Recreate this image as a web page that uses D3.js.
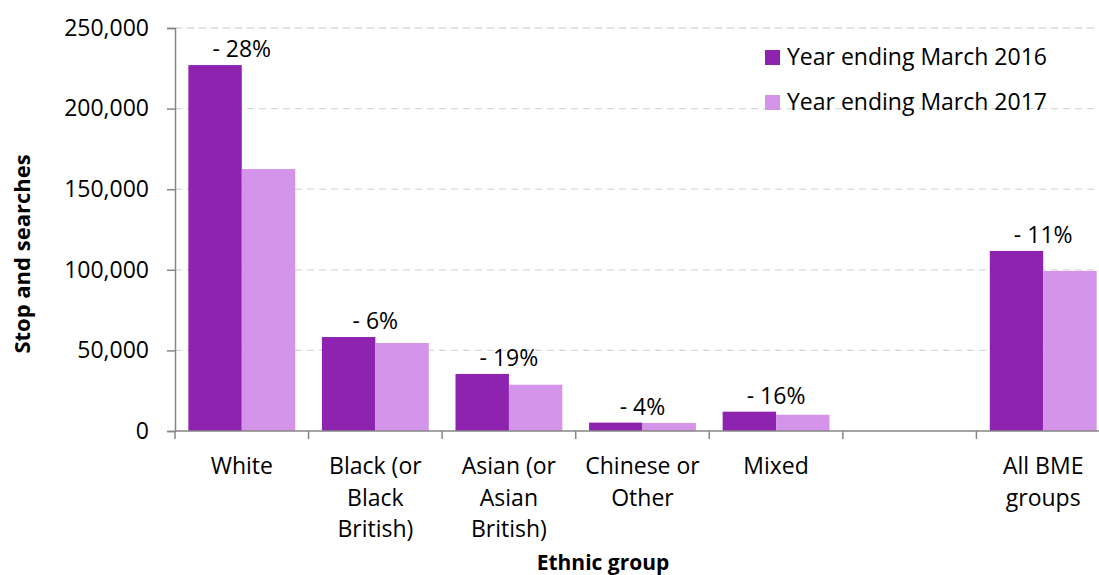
<!DOCTYPE html>
<html>
<head>
<meta charset="utf-8">
<script src="https://cdn.jsdelivr.net/npm/d3@7"></script>
<style>
  html, body { margin: 0; padding: 0; background: #fff; }
  svg { display: block; font-family: "Open Sans", "Noto Sans", sans-serif; }
</style>
</head>
<body>
<svg id="chart" width="1099" height="575"></svg>
<script>
// ---- data ----
const categories = ["White", "Black (or|Black|British)", "Asian (or|Asian|British)", "Chinese or|Other", "Mixed", "", "All BME|groups"];
const categoryKeys = ["white", "black", "asian", "chinese", "mixed", "blank", "bme"];
const seriesNames = ["Year ending March 2016", "Year ending March 2017"];
const values2016 = [227000, 58300, 35400, 5200, 12000, null, 111700];
const values2017 = [162500, 54600, 28700, 5000, 10100, null, 99300];
const changeLabels = ["- 28%", "- 6%", "- 19%", "- 4%", "- 16%", "", "- 11%"];
const yTicks = [0, 50000, 100000, 150000, 200000, 250000];
const colors = ["#8E23B0", "#D494E9"];

// ---- layout ----
const svg = d3.select("#chart");
const plotLeft = 175, plotRight = 1110, plotTop = 28, plotBottom = 431;
const fs = 23;

const x = d3.scaleBand().domain(categoryKeys).range([plotLeft, plotRight]).padding(0);
const xs = d3.scaleBand().domain([0, 1]).range([x.bandwidth() * 0.1, x.bandwidth() * 0.9]).padding(0);
const y = d3.scaleLinear().domain([0, 250000]).range([plotBottom, plotTop]);

// gridlines
svg.append("g").selectAll("line").data(yTicks.filter(d => d > 0)).join("line")
  .attr("x1", plotLeft).attr("x2", 1099)
  .attr("y1", d => y(d)).attr("y2", d => y(d))
  .attr("stroke", "#d9d9d9").attr("stroke-width", 1.3).attr("stroke-dasharray", "7,5");

// bars
const series = [values2016, values2017];
series.forEach((vals, si) => {
  svg.append("g").selectAll("rect").data(categoryKeys.map((k, i) => ({k, v: vals[i]})).filter(d => d.v != null))
    .join("rect")
    .attr("x", d => x(d.k) + xs(si))
    .attr("width", xs.bandwidth())
    .attr("y", d => y(d.v))
    .attr("height", d => y(0) - y(d.v))
    .attr("fill", colors[si]);
});

// change labels
svg.append("g").selectAll("text").data(categoryKeys.map((k, i) => ({k, i})).filter(d => changeLabels[d.i]))
  .join("text")
  .attr("x", d => x(d.k) + x.bandwidth() / 2)
  .attr("y", d => y(Math.max(values2016[d.i], values2017[d.i])) - 8)
  .attr("text-anchor", "middle")
  .attr("font-size", fs).attr("fill", "#000")
  .text(d => changeLabels[d.i]);

// y axis
const yAxis = svg.append("g").attr("transform", `translate(${plotLeft},0)`)
  .call(d3.axisLeft(y).tickValues(yTicks).tickSize(8).tickPadding(18).tickFormat(d3.format(",")));
yAxis.select(".domain").attr("stroke", "#868686").attr("stroke-width", 1.5);
yAxis.selectAll(".tick line").attr("stroke", "#868686").attr("stroke-width", 1.5);
yAxis.selectAll(".tick text").attr("font-size", fs).attr("fill", "#000").attr("font-family", "Open Sans");

// x axis
const xAxisG = svg.append("g");
xAxisG.append("line").attr("x1", plotLeft).attr("x2", 1099).attr("y1", plotBottom).attr("y2", plotBottom)
  .attr("stroke", "#868686").attr("stroke-width", 1.5);
xAxisG.selectAll("line.tk").data(categoryKeys).join("line").attr("class", "tk")
  .attr("x1", d => x(d)).attr("x2", d => x(d))
  .attr("y1", plotBottom).attr("y2", plotBottom + 8)
  .attr("stroke", "#868686").attr("stroke-width", 1.5);
const catText = xAxisG.selectAll("text").data(categoryKeys.map((k, i) => ({k, i}))).join("text")
  .attr("x", d => x(d.k) + x.bandwidth() / 2)
  .attr("y", 474)
  .attr("text-anchor", "middle").attr("font-size", fs).attr("fill", "#000");
catText.each(function(d) {
  const lines = categories[d.i].split("|");
  d3.select(this).selectAll("tspan").data(lines).join("tspan")
    .attr("x", x(d.k) + x.bandwidth() / 2)
    .attr("dy", (l, j) => j === 0 ? 0 : 31.5)
    .text(l => l);
});

// axis titles
svg.append("text").attr("transform", "translate(30,254) rotate(-90)")
  .attr("text-anchor", "middle").attr("font-size", 22).attr("font-weight", "bold").attr("fill", "#000")
  .text("Stop and searches");
svg.append("text").attr("x", 603).attr("y", 570)
  .attr("text-anchor", "middle").attr("font-size", 21).attr("font-weight", "bold").attr("fill", "#000")
  .text("Ethnic group");

// legend
const legend = svg.append("g");
seriesNames.forEach((name, i) => {
  const ly = 57 + i * 45;
  legend.append("rect").attr("x", 765).attr("y", ly - 7).attr("width", 15).attr("height", 15).attr("fill", colors[i]);
  legend.append("text").attr("x", 787).attr("y", ly + 8).attr("font-size", fs).attr("fill", "#000").text(name);
});
</script>
</body>
</html>
